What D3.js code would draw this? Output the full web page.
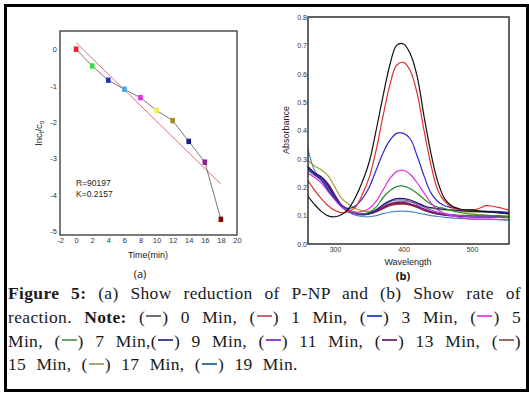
<!DOCTYPE html>
<html>
<head>
<meta charset="utf-8">
<script src="https://cdn.jsdelivr.net/npm/d3@7"></script>
<style>
body{margin:0;background:#fff;}
#wrap{position:relative;width:529px;height:399px;overflow:hidden;}
#wrap svg{position:absolute;left:0;top:0;}
#caption{position:absolute;left:8px;top:283px;width:513px;font-family:"Liberation Serif",serif;font-size:17.5px;letter-spacing:0.35px;line-height:20px;color:#1a1a1a;}
#caption div{text-align:justify;text-align-last:justify;margin-bottom:3.8px;}
#caption div.last{text-align:left;text-align-last:left;word-spacing:5.5px;}
#caption .dash{display:inline-block;width:15px;height:0;border-top:2px solid;vertical-align:0.32em;margin:0 1px;}
</style>
</head>
<body>
<div id="wrap"></div>
<script>
//Panel (a) data: ln(ct/c0) against time
const times = [0, 2, 4, 6, 8, 10, 12, 14, 16, 18];
const lnRatio = [0, -0.46, -0.85, -1.1, -1.33, -1.68, -1.96, -2.53, -3.1, -4.67];
const pointColors = ['#e8202a', '#33dd44', '#2233bb', '#44aaee', '#dd33dd', '#eeee44', '#a08a30', '#1a1a88', '#882288', '#7a0a0a'];
const fitIntercept = 0.18;
const fitSlope = -0.2157;
const xTicksA = [-2, 0, 2, 4, 6, 8, 10, 12, 14, 16, 18, 20];
const yTicksA = [0, -1, -2, -3, -4, -5];

//Panel (b) data: absorbance spectra
const wavelengths = [260,270,280,290,300,310,320,330,340,350,360,370,380,390,400,410,420,430,440,450,460,470,480,490,500,510,520,530,540,550,555];
const spectraNames = ['0 Min','1 Min','3 Min','5 Min','7 Min','9 Min','11 Min','13 Min','15 Min','17 Min','19 Min'];
const spectraColors = ['#111111','#e0302a','#2a2ad0','#e030e0','#2a8c2a','#1c1c78','#8050e0','#7a1870','#a03040','#a0a030','#4a88c8'];
const legendColors = ['#707070','#c86868','#3a50c8','#e850e8','#68a868','#484890','#8848e0','#803888','#a86868','#a8a878','#3878a8'];
const min0  = [0.17,0.14,0.115,0.099,0.096,0.104,0.125,0.165,0.22,0.29,0.40,0.52,0.63,0.70,0.705,0.67,0.59,0.45,0.32,0.22,0.16,0.135,0.125,0.12,0.12,0.117,0.115,0.112,0.11,0.107,0.106];
const min1  = [0.225,0.19,0.16,0.135,0.118,0.11,0.115,0.13,0.175,0.235,0.33,0.45,0.56,0.63,0.64,0.61,0.53,0.40,0.28,0.19,0.15,0.13,0.122,0.12,0.12,0.125,0.135,0.133,0.128,0.122,0.12];
const min3  = [0.27,0.245,0.225,0.19,0.16,0.135,0.125,0.135,0.16,0.20,0.26,0.32,0.365,0.39,0.39,0.37,0.31,0.24,0.18,0.15,0.135,0.128,0.123,0.12,0.118,0.116,0.115,0.115,0.114,0.112,0.112];
const min5  = [0.25,0.235,0.215,0.185,0.155,0.13,0.117,0.112,0.115,0.125,0.15,0.19,0.23,0.255,0.26,0.245,0.215,0.18,0.145,0.12,0.108,0.10,0.095,0.09,0.087,0.088,0.088,0.087,0.086,0.085,0.085];
const min7  = [0.26,0.245,0.225,0.195,0.16,0.135,0.12,0.11,0.107,0.112,0.13,0.163,0.188,0.202,0.204,0.195,0.178,0.158,0.14,0.13,0.125,0.118,0.112,0.108,0.105,0.103,0.102,0.10,0.10,0.098,0.097];
const min9  = [0.275,0.25,0.235,0.205,0.165,0.135,0.12,0.11,0.105,0.108,0.12,0.138,0.152,0.16,0.16,0.155,0.145,0.135,0.128,0.125,0.122,0.12,0.118,0.116,0.115,0.114,0.113,0.113,0.112,0.11,0.11];
const min11 = [0.265,0.245,0.23,0.20,0.16,0.13,0.115,0.107,0.105,0.108,0.12,0.136,0.149,0.155,0.155,0.15,0.14,0.13,0.12,0.112,0.107,0.103,0.10,0.098,0.097,0.096,0.096,0.095,0.095,0.094,0.094];
const min13 = [0.27,0.25,0.235,0.21,0.17,0.135,0.118,0.108,0.105,0.107,0.115,0.128,0.139,0.145,0.145,0.14,0.132,0.122,0.113,0.107,0.103,0.10,0.098,0.097,0.096,0.096,0.096,0.095,0.095,0.094,0.094];
const min15 = [0.265,0.245,0.23,0.205,0.165,0.132,0.115,0.107,0.104,0.107,0.115,0.126,0.136,0.141,0.142,0.138,0.13,0.12,0.112,0.107,0.104,0.102,0.10,0.099,0.098,0.098,0.098,0.097,0.097,0.096,0.096];
const min17 = [0.295,0.275,0.262,0.24,0.2,0.16,0.14,0.125,0.117,0.115,0.12,0.132,0.143,0.149,0.15,0.148,0.14,0.132,0.126,0.122,0.12,0.118,0.116,0.114,0.113,0.112,0.112,0.111,0.11,0.11,0.11];
const min19 = [0.34,0.26,0.225,0.195,0.16,0.13,0.112,0.102,0.097,0.096,0.10,0.107,0.112,0.115,0.116,0.114,0.11,0.105,0.10,0.097,0.094,0.092,0.09,0.089,0.088,0.088,0.087,0.087,0.086,0.085,0.085];
const spectra = [min0, min1, min3, min5, min7, min9, min11, min13, min15, min17, min19];
const xTicksB = [300, 400, 500];
const yTicksB = [0, 0.1, 0.2, 0.3, 0.4, 0.5, 0.6, 0.7, 0.8];

const svg = d3.select('#wrap').append('svg').attr('width', 529).attr('height', 399);
const sans = '"Liberation Sans", Arial, sans-serif';

//outer frame
svg.append('rect')
	.attr('x', 5.5).attr('y', 5.5).attr('width', 522).attr('height', 385)
	.style('fill', 'none').style('stroke', '#000').style('stroke-width', 3);

// ---------- panel (a) ----------
const xa = d3.scaleLinear().domain([-2, 20]).range([60, 237]);
const ya = d3.scaleLinear().domain([-5.1, 0.5]).range([235, 31]);
const ga = svg.append('g');

ga.append('g')
	.attr('transform', 'translate(0,235)')
	.call(d3.axisBottom(xa).tickValues(xTicksA).tickFormat(d => String(d)).tickSize(0).tickPadding(2.5))
	.call(g => g.select('.domain').remove())
	.selectAll('text').style('font-family', sans).style('font-size', '7.5px').style('fill', '#333');
ga.append('g')
	.attr('transform', 'translate(57,0)')
	.call(d3.axisLeft(ya).tickValues(yTicksA).tickFormat(d => String(d)).tickSize(0).tickPadding(0))
	.call(g => g.select('.domain').remove())
	.selectAll('text').style('font-family', sans).style('font-size', '7.5px').style('fill', '#333');

ga.append('rect')
	.attr('x', xa(-2)).attr('y', ya(0.5)).attr('width', xa(20) - xa(-2)).attr('height', ya(-5.1) - ya(0.5))
	.style('fill', 'none').style('stroke', '#333').style('stroke-width', 1.3);

//regression line
ga.append('line')
	.attr('x1', xa(0)).attr('y1', ya(fitIntercept))
	.attr('x2', xa(18)).attr('y2', ya(fitIntercept + fitSlope * 18))
	.style('stroke', '#e06060').style('stroke-width', 0.9);

//data line + markers
const lineA = d3.line().x((d, i) => xa(times[i])).y(d => ya(d));
ga.append('path').datum(lnRatio).attr('d', lineA)
	.style('fill', 'none').style('stroke', '#555').style('stroke-width', 0.8);
ga.selectAll('.pt').data(lnRatio).enter().append('rect')
	.attr('class', 'pt')
	.attr('x', (d, i) => xa(times[i]) - 2.3).attr('y', d => ya(d) - 2.7)
	.attr('width', 4.6).attr('height', 5.4)
	.style('fill', (d, i) => pointColors[i]);

ga.append('text').attr('x', 76).attr('y', 186)
	.style('font-family', sans).style('font-size', '8.5px').style('fill', '#222').text('R=90197');
ga.append('text').attr('x', 76).attr('y', 197)
	.style('font-family', sans).style('font-size', '8.5px').style('fill', '#222').text('K=0.2157');

ga.append('text').attr('x', 148).attr('y', 258).attr('text-anchor', 'middle')
	.style('font-family', sans).style('font-size', '9px').style('fill', '#222').text('Time(min)');

const ylab = ga.append('text').attr('transform', 'translate(42,133) rotate(-90)').attr('text-anchor', 'middle')
	.style('font-family', sans).style('font-size', '9.5px').style('fill', '#222');
ylab.append('tspan').text('lnc');
ylab.append('tspan').attr('dy', 2).style('font-size', '6.5px').text('t');
ylab.append('tspan').attr('dy', -2).text('/c');
ylab.append('tspan').attr('dy', 2).style('font-size', '6.5px').text('o');

ga.append('text').attr('x', 140).attr('y', 278).attr('text-anchor', 'middle')
	.style('font-family', '"Open Sans", sans-serif').style('font-size', '11px').style('fill', '#111').text('(a)');

// ---------- panel (b) ----------
const xb = d3.scaleLinear().domain([260.6, 554]).range([308, 509]);
const yb = d3.scaleLinear().domain([0, 0.8]).range([244, 17]);
const gb = svg.append('g');

gb.append('g')
	.attr('transform', 'translate(0,244)')
	.call(d3.axisBottom(xb).tickValues(xTicksB).tickSize(0).tickPadding(3))
	.call(g => g.select('.domain').remove())
	.selectAll('text').style('font-family', sans).style('font-size', '7px').style('fill', '#333');
gb.append('g')
	.attr('transform', 'translate(308,0)')
	.call(d3.axisLeft(yb).tickValues(yTicksB).tickFormat(d3.format('.1f')).tickSize(0).tickPadding(1))
	.call(g => g.select('.domain').remove())
	.selectAll('text').style('font-family', sans).style('font-size', '7px').style('fill', '#333');

svg.append('clipPath').attr('id', 'clipb').append('rect')
	.attr('x', 308).attr('y', 17).attr('width', 201).attr('height', 227);

const lineB = d3.line().x((d, i) => xb(wavelengths[i])).y(d => yb(d)).curve(d3.curveCatmullRom);
gb.append('g').attr('clip-path', 'url(#clipb)')
	.selectAll('path').data(spectra.slice().reverse()).enter().append('path')
	.attr('d', lineB)
	.style('fill', 'none')
	.style('stroke', (d, i) => spectraColors[spectra.length - 1 - i])
	.style('stroke-width', (d, i) => {
		const k = spectra.length - 1 - i;
		return (k === 7 || k === 8) ? 2 : 1.2;
	});

gb.append('rect')
	.attr('x', 308).attr('y', 17).attr('width', 201).attr('height', 227)
	.style('fill', 'none').style('stroke', '#222').style('stroke-width', 1.4);

gb.append('text').attr('x', 408).attr('y', 265).attr('text-anchor', 'middle')
	.style('font-family', sans).style('font-size', '9px').style('fill', '#222').text('Wavelength');
gb.append('text').attr('transform', 'translate(289,130) rotate(-90)').attr('text-anchor', 'middle')
	.style('font-family', sans).style('font-size', '9px').style('fill', '#222').text('Absorbance');
gb.append('text').attr('x', 403).attr('y', 279.5).attr('text-anchor', 'middle')
	.style('font-family', '"Open Sans", sans-serif').style('font-size', '11px').style('font-weight', 'bold').style('fill', '#111').text('(b)');

// ---------- caption ----------
const cap = d3.select('#wrap').append('div').attr('id', 'caption');
function key(div, i){
	div.append('span').text('(');
	div.append('span').attr('class', 'dash').style('border-color', legendColors[i]);
	div.append('span').text(')');
}
const l1 = cap.append('div');
l1.append('b').text('Figure 5:');
l1.append('span').text(' (a) Show reduction of P-NP and (b) Show rate of');

const l2 = cap.append('div');
l2.append('span').text('reaction. ');
l2.append('b').text('Note:');
l2.append('span').text(' ');
key(l2, 0); l2.append('span').text(' 0 Min, ');
key(l2, 1); l2.append('span').text(' 1 Min, ');
key(l2, 2); l2.append('span').text(' 3 Min, ');
key(l2, 3); l2.append('span').text(' 5');

const l3 = cap.append('div');
l3.append('span').text('Min, ');
key(l3, 4); l3.append('span').text(' 7 Min,');
key(l3, 5); l3.append('span').text(' 9 Min, ');
key(l3, 6); l3.append('span').text(' 11 Min, ');
key(l3, 7); l3.append('span').text(' 13 Min, ');
key(l3, 8);

const l4 = cap.append('div').attr('class', 'last');
l4.append('span').text('15 Min, ');
key(l4, 9); l4.append('span').text(' 17 Min, ');
key(l4, 10); l4.append('span').text(' 19 Min.');
</script>
</body>
</html>
